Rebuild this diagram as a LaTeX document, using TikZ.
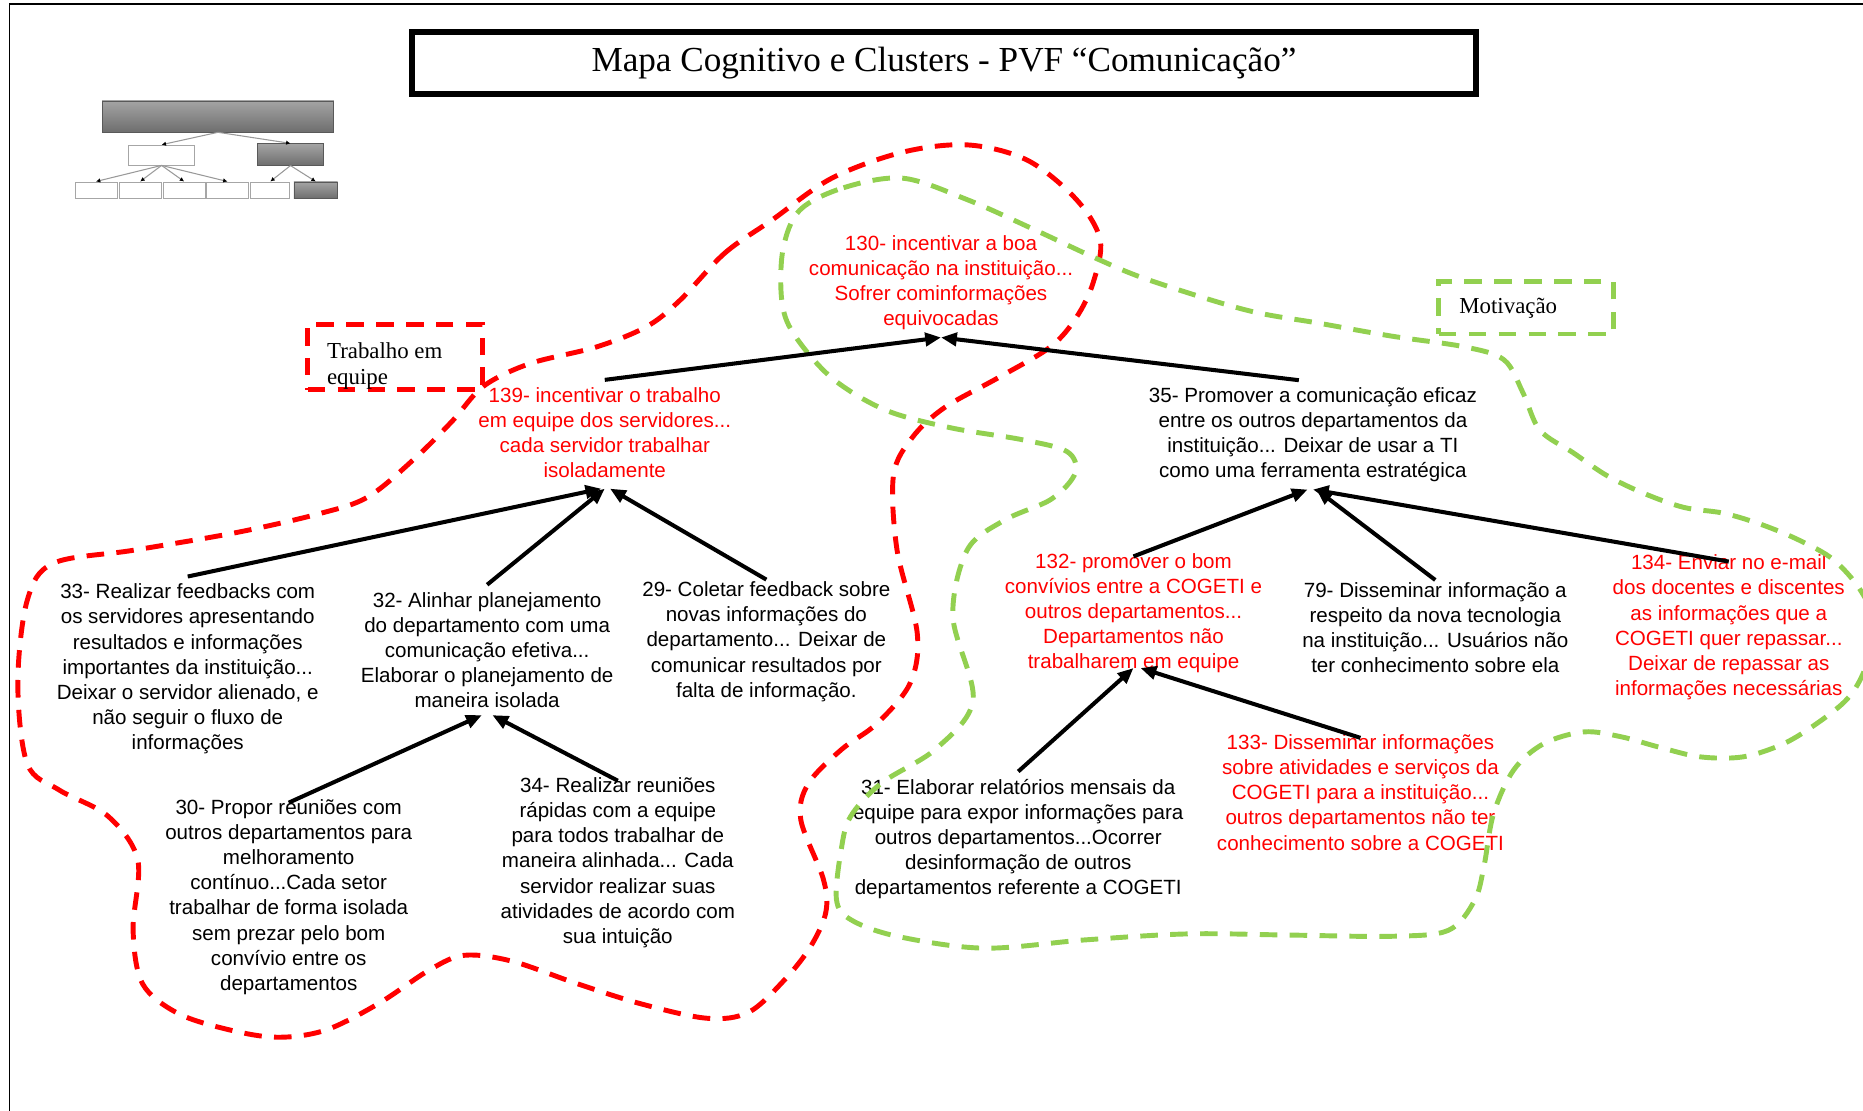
\documentclass[tikz,border=0pt]{standalone}
\usepackage{fontspec}
\setmainfont{Liberation Serif}
\newfontfamily\arialfont{Liberation Sans}
\usepackage{tikz}
\usetikzlibrary{positioning, arrows.meta}
\definecolor{mapred}{HTML}{FF0000}
\definecolor{mapgreen}{HTML}{92D050}
\definecolor{chartlight}{HTML}{A4A4A4}
\definecolor{chartdeep}{HTML}{6E6E6E}

\tikzset{
  concept/.style={align=center, inner sep=4pt,
    font=\arialfont\fontsize{11.7}{14.3}\selectfont},
  link/.style={line width=2.3pt, -{Triangle[length=9pt, width=7.5pt]}},
  cluster/.style={line width=2.8pt, dash pattern=on 10pt off 7pt},
  clustername/.style={align=left, inner sep=0pt,
    font=\fontsize{13}{14.8}\selectfont},
  labelbox/.style={line width=2.8pt, dash pattern=on 10pt off 7pt, inner sep=0pt},
  plainbox/.style={draw=gray!70, fill=white, inner sep=0pt},
  shadedbox/.style={draw=gray!70!black, top color=chartlight, bottom color=chartdeep, inner sep=0pt},
  chartlink/.style={draw=gray!80, line width=0.6pt, -{Latex[length=2.5pt, width=2.5pt, black]}}
}

\begin{document}
\begin{tikzpicture}[x=0.02376cm, y=-0.02376cm]
  \useasboundingbox (0,0) rectangle (1568,935);
  % page frame
  \draw[line width=1pt] (8,935) -- (8,3.5) -- (1568,3.5);

  % title
  \node[draw, line width=3pt, minimum width=21.27cm, minimum height=1.24cm,
        font=\fontsize{20}{24}\selectfont] (title) at (794.5,53)
        {Mapa Cognitivo e Clusters - PVF “Comunicação”};

  % small hierarchy sketch
  \node[shadedbox, minimum width=4.63cm, minimum height=0.62cm] (root) at (183.5,98) {};
  \node[plainbox, minimum width=1.33cm, minimum height=0.40cm] (midl) at (136,130.5) {};
  \node[shadedbox, minimum width=1.31cm, minimum height=0.43cm] (midr) at (244.5,130) {};
  \node[plainbox, minimum width=0.84cm, minimum height=0.33cm] (leafa) at (80.75,160) {};
  \node[plainbox, minimum width=0.85cm, minimum height=0.33cm] (leafb) at (118,160) {};
  \node[plainbox, minimum width=0.85cm, minimum height=0.33cm] (leafc) at (155,160) {};
  \node[plainbox, minimum width=0.83cm, minimum height=0.33cm] (leafd) at (191.5,160) {};
  \node[plainbox, minimum width=0.78cm, minimum height=0.33cm] (leafe) at (227.5,160) {};
  \node[shadedbox, minimum width=0.87cm, minimum height=0.33cm] (leaff) at (265.75,160) {};
  \draw[chartlink] (root.south) -- (midl.north);
  \draw[chartlink] (root.south) -- (midr.north);
  \draw[chartlink] (midl.south) -- (leafa.north);
  \draw[chartlink] (midl.south) -- (leafb.north);
  \draw[chartlink] (midl.south) -- (leafc.north);
  \draw[chartlink] (midl.south) -- (leafd.north);
  \draw[chartlink] (midr.south) -- (leafe.north);
  \draw[chartlink] (midr.south) -- (leaff.north);

  % cluster names
  \node[labelbox, draw=mapred, minimum width=3.49cm, minimum height=1.31cm] (teambox) at (332.5,300.5) {};
  \node[clustername, anchor=north west] (teamname) at (275,288) {Trabalho em\\equipe};
  \node[labelbox, draw=mapgreen, minimum width=3.49cm, minimum height=1.05cm] (motivbox) at (1284.5,259) {};
  \node[clustername, anchor=west] (motivname) at (1228,259) {Motivação};

  % concepts
  \node[concept, text=mapred] (n130) at (792,238)
    {130- incentivar a boa\\comunicação na instituição...\\Sofrer cominformações\\equivocadas};
  \node[concept, text=mapred] (n139) at (509,364)
    {139- incentivar o trabalho\\em equipe dos servidores...\\cada servidor trabalhar\\isoladamente};
  \node[concept] (n35) at (1105,366)
    {35- Promover a comunicação eficaz\\entre os outros departamentos da\\instituição... Deixar de usar a TI\\como uma ferramenta estratégica};
  \node[concept] (n33) at (158,563)
    {33- Realizar feedbacks com\\os servidores apresentando\\resultados e informações\\importantes da instituição...\\Deixar o servidor alienado, e\\não seguir o fluxo de\\informações};
  \node[concept] (n32) at (410,547)
    {32- Alinhar planejamento\\do departamento com uma\\comunicação efetiva...\\Elaborar o planejamento de\\maneira isolada};
  \node[concept] (n29) at (645,540)
    {29- Coletar feedback sobre\\novas informações do\\departamento... Deixar de\\comunicar resultados por\\falta de informação.};
  \node[concept, text=mapred] (n132) at (954,516)
    {132- promover o bom\\convívios entre a COGETI e\\outros departamentos...\\Departamentos não\\trabalharem em equipe};
  \node[concept] (n79) at (1208,528)
    {79- Disseminar informação a\\respeito da nova tecnologia\\na instituição... Usuários não\\ter conhecimento sobre ela};
  \node[concept, text=mapred] (n134) at (1455,528)
    {134- Enviar no e-mail\\dos docentes e discentes\\as informações que a\\COGETI quer repassar...\\Deixar de repassar as\\informações necessárias};
  \node[concept] (n30) at (243,755)
    {30- Propor reuniões com\\outros departamentos para\\melhoramento\\contínuo...Cada setor\\trabalhar de forma isolada\\sem prezar pelo bom\\convívio entre os\\departamentos};
  \node[concept] (n34) at (520,726)
    {34- Realizar reuniões\\rápidas com a equipe\\para todos trabalhar de\\maneira alinhada... Cada\\servidor realizar suas\\atividades de acordo com\\sua intuição};
  \node[concept] (n31) at (857,706)
    {31- Elaborar relatórios mensais da\\equipe para expor informações para\\outros departamentos...Ocorrer\\desinformação de outros\\departamentos referente a COGETI};
  \node[concept, text=mapred] (n133) at (1145,667)
    {133- Disseminar informações\\sobre atividades e serviços da\\COGETI para a instituição...\\outros departamentos não ter\\conhecimento sobre a COGETI};

  % clusters
  \draw[cluster, mapred] plot[smooth cycle, tension=0.55] coordinates {
    (572,253) (610,213) (650,185) (700,150) (760,128) (815,122) (865,135)
    (906,168) (926,202) (920,238) (906,267) (884,292) (840,318) (795,343)
    (768,368) (752,400) (755,463) (772,533) (766,575) (738,609) (708,631)
    (680,660) (674,690) (693,740) (695,768) (682,797) (660,825) (630,852)
    (595,857) (540,845) (486,828) (431,809) (391,804) (362,816) (318,845)
    (274,867) (234,873) (194,867) (150,853) (120,828) (112,783) (116,724)
    (91,687) (50,665) (23,643) (15,575) (23,505) (45,474) (113,463)
    (200,448) (270,432) (310,418) (350,385) (381,354) (407,325) (446,306)
    (502,292) (544,275)};
  \draw[cluster, mapgreen] plot[smooth cycle, tension=0.55] coordinates {
    (673,177) (710,158) (760,150) (814,168) (870,193) (926,219) (968,236)
    (1049,261) (1110,272) (1172,283) (1233,292) (1266,303) (1282,331)
    (1296,362) (1324,381) (1352,400) (1383,415) (1417,427) (1451,432)
    (1484,442) (1515,455) (1543,471) (1566,497) (1580,530) (1568,567)
    (1554,589) (1529,609) (1501,626) (1467,637) (1431,637) (1397,629)
    (1364,620) (1333,616) (1299,626) (1274,648) (1257,685) (1249,729)
    (1241,758) (1219,783) (1172,788) (1086,787) (1000,786) (914,791)
    (828,798) (755,788) (716,774) (704,757) (708,715) (716,687) (742,659)
    (788,630) (819,589) (802,519) (814,463) (845,438) (885,420) (905,398)
    (898,380) (860,370) (800,360) (745,345) (700,318) (668,281) (658,253)
    (659,210)};

  % influence links
  \draw[link] (n139.north) -- (n130.south);
  \draw[link] ([xshift=-8pt]n35.north) -- (n130.south);
  \draw[link] (n33.north) -- ([xshift=-2pt, yshift=-2pt]n139.south);
  \draw[link] (n32.north) -- ([yshift=-2pt]n139.south);
  \draw[link] ([yshift=-3pt]n29.north) -- ([xshift=3pt, yshift=-2pt]n139.south);
  \draw[link] ([yshift=-6pt]n30.north) -- ([xshift=-3pt]n32.south);
  \draw[link] ([yshift=-6pt]n34.north) -- ([xshift=3pt]n32.south);
  \draw[link] ([yshift=-6pt]n132.north) -- ([xshift=-3pt]n35.south);
  \draw[link] ([yshift=-3pt]n79.north) -- ([xshift=2pt]n35.south);
  \draw[link] ([yshift=-8pt]n134.north) -- (n35.south);
  \draw[link] (n31.north) -- ([yshift=7pt]n132.south);
  \draw[link] ([yshift=-6pt]n133.north) -- ([xshift=4pt, yshift=7pt]n132.south);
\end{tikzpicture}
\end{document}
